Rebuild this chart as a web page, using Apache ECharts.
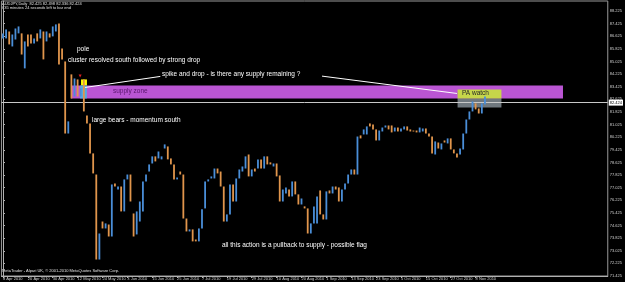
<!DOCTYPE html>
<html>
<head>
<meta charset="utf-8">
<script src="https://cdn.jsdelivr.net/npm/echarts@6/dist/echarts.min.js"></script>
<style>
  html, body { margin: 0; padding: 0; background: #000; }
  #chart { width: 625px; height: 282px; }
</style>
</head>
<body>
<div id="chart"></div>
<script>
// AUDJPY daily, 8 Apr 2010 .. Nov 2010, one bar per trading day
const dateLabels = ['8 Apr 2010', '20 Apr 2010', '30 Apr 2010', '12 May 2010', '24 May 2010',
  '3 Jun 2010', '15 Jun 2010', '25 Jun 2010', '7 Jul 2010', '19 Jul 2010', '29 Jul 2010',
  '10 Aug 2010', '20 Aug 2010', '1 Sep 2010', '13 Sep 2010', '23 Sep 2010', '5 Oct 2010',
  '15 Oct 2010', '27 Oct 2010', '8 Nov 2010'];

const highs = [
  86.81, 87.06, 86.93, 86.74, 87.12, 87.25, 86.81, 86.30, 86.74, 86.74,
  86.49, 86.81, 87.06, 86.93, 86.93, 86.81, 87.25, 87.38, 87.44, 85.85,
  85.03, 81.23, 84.21, 83.95, 83.89, 83.32, 83.89, 81.61, 81.10, 79.20,
  77.86, 74.12, 74.88, 74.76, 74.69, 77.23, 77.29, 77.10, 77.10, 77.55,
  77.86, 77.86, 75.39, 75.52, 76.15, 77.42, 77.86, 78.50, 79.01, 79.01,
  79.32, 79.01, 79.77, 79.64, 78.88, 78.50, 77.67, 78.05, 77.86, 75.07,
  74.38, 74.38, 73.74, 74.44, 75.65, 77.42, 77.55, 77.74, 78.24, 78.24,
  78.05, 77.10, 75.33, 77.23, 77.23, 77.61, 78.18, 78.37, 79.01, 79.13,
  78.18, 78.24, 78.82, 78.82, 79.01, 79.01, 78.63, 78.56, 78.56, 77.80,
  76.91, 77.04, 76.91, 77.42, 77.42, 76.60, 76.34, 75.84, 75.71, 74.76,
  75.84, 76.47, 76.85, 75.33, 76.79, 76.85, 77.10, 77.10, 77.04, 76.91,
  77.29, 77.86, 78.18, 78.18, 80.27, 80.34, 80.72, 80.91, 81.10, 81.03,
  80.72, 80.65, 80.84, 80.97, 80.97, 80.97, 80.84, 80.84, 80.78, 80.91,
  80.91, 80.72, 80.65, 80.65, 80.84, 80.78, 80.78, 80.46, 80.27, 79.96,
  79.89, 79.83, 80.02, 80.15, 80.15, 79.45, 79.20, 79.51, 80.46, 81.35,
  81.86, 82.49, 82.37, 82.05, 82.37, 82.81
];
const lows = [
  86.49, 86.49, 86.11, 85.98, 86.42, 86.81, 85.47, 84.59, 85.98, 86.17,
  86.17, 86.30, 86.49, 85.16, 86.30, 86.55, 86.62, 86.93, 84.84, 85.16,
  80.46, 80.46, 82.68, 82.81, 82.81, 82.81, 81.86, 81.10, 79.20, 77.93,
  72.47, 72.47, 74.44, 74.44, 73.93, 73.93, 77.10, 76.91, 75.52, 75.52,
  77.55, 76.15, 73.93, 74.06, 74.88, 75.52, 77.42, 78.05, 78.56, 78.69,
  78.88, 78.82, 79.51, 78.82, 78.50, 77.55, 77.55, 77.86, 75.07, 74.25,
  74.25, 73.62, 73.62, 73.62, 74.44, 75.71, 77.42, 77.61, 77.61, 77.93,
  77.10, 74.88, 74.88, 75.33, 76.15, 76.15, 77.61, 78.05, 78.24, 77.74,
  77.74, 78.05, 78.24, 78.24, 78.24, 78.50, 78.50, 78.37, 77.74, 76.15,
  76.15, 76.66, 76.47, 76.47, 76.60, 75.96, 75.96, 75.71, 74.12, 74.12,
  74.76, 74.76, 75.33, 75.01, 75.01, 76.66, 76.66, 76.91, 76.15, 76.15,
  76.91, 77.29, 77.86, 77.86, 77.86, 80.15, 80.40, 80.40, 80.91, 80.72,
  80.02, 80.02, 80.59, 80.84, 80.72, 80.53, 80.59, 80.59, 80.59, 80.72,
  80.65, 80.59, 80.59, 80.53, 80.53, 80.59, 80.46, 80.27, 79.20, 79.13,
  79.51, 79.45, 79.89, 79.83, 79.45, 79.20, 78.94, 79.13, 79.45, 80.46,
  81.35, 81.86, 81.99, 81.73, 81.73, 82.30
];
// 1 = up bar (blue), -1 = down bar (orange)
const dirs = [
  1, 1, -1, 1, 1, 1, -1, 1, -1, -1,
  1, -1, 1, -1, 1, -1, 1, 1, -1, -1,
  -1, 1, -1, 1, -1, 1, -1, -1, -1, -1,
  -1, 1, -1, 1, -1, 1, -1, 1, -1, 1,
  1, -1, -1, 1, 1, 1, 1, 1, 1, -1,
  1, 1, 1, -1, -1, -1, 1, -1, -1, -1,
  1, -1, -1, 1, 1, 1, 1, 1, 1, -1,
  -1, -1, 1, 1, -1, 1, 1, 1, 1, -1,
  1, -1, 1, -1, 1, -1, -1, 1, -1, -1,
  1, 1, -1, 1, -1, -1, 1, -1, -1, 1,
  1, 1, -1, -1, 1, -1, 1, -1, -1, 1,
  1, 1, 1, -1, 1, -1, 1, 1, -1, -1,
  -1, 1, 1, 1, -1, -1, 1, -1, 1, 1,
  -1, -1, -1, -1, 1, 1, -1, -1, -1, 1,
  -1, 1, -1, 1, -1, -1, -1, 1, 1, 1,
  1, 1, -1, -1, 1, 1
];

const lastPrice = 82.424;
const priceTicksFrom = 71.425;   // lowest price label
const priceStep = 0.8;
const supplyZone = { x: [21.9, 180.1], y: [82.68, 83.51] };
const spikeBox = { x: [25.1, 27.0], y: [83.51, 83.89] };
const clusterBox = { x: [24.8, 27.0], y: [82.68, 83.51] };
const paWatchBox = { x: [146.2, 160.3], y: [82.68, 83.25] };
const paGreyBox = { x: [146.2, 160.3], y: [82.11, 82.68] };
const spikeLine1 = [[26.4, 83.38], [50.6, 84.08]];
const spikeLine2 = [[102.6, 84.1], [146.0, 83.0]];

const UP = '#4a8ed8';
const DOWN = '#e0954c';
const FONT = '"Liberation Sans", Arial, sans-serif';

const bars = highs.map((h, i) => [i, lows[i], h, dirs[i]]);

const chart = echarts.init(document.getElementById('chart'), null, { renderer: 'canvas' });

function box(b, color) {
  return [{ xAxis: b.x[0], yAxis: b.y[1], itemStyle: { color: color } }, { xAxis: b.x[1], yAxis: b.y[0] }];
}

const option = {
  backgroundColor: '#000',
  animation: false,
  grid: { left: 0, right: 15, top: 1, bottom: 6, show: true, borderColor: '#9a9a9a', borderWidth: 1 },
  xAxis: {
    type: 'value',
    min: -0.5,
    max: 194.5,
    axisLine: { show: true, lineStyle: { color: '#b0b0b0', width: 1 } },
    axisTick: { show: true, length: 2, lineStyle: { color: '#b0b0b0' },
      customValues: dateLabels.map((d, k) => k * 8) },
    axisLabel: {
      customValues: dateLabels.map((d, k) => k * 8),
      formatter: v => dateLabels[Math.round(v / 8)] || '',
      color: '#d0d0d0', fontSize: 4, fontFamily: FONT, align: 'left', margin: 1
    },
    splitLine: { show: false }
  },
  yAxis: {
    type: 'value',
    position: 'right',
    min: priceTicksFrom,
    max: priceTicksFrom + 275 / 15.77,
    interval: priceStep,
    axisLine: { show: true, lineStyle: { color: '#b0b0b0', width: 1 } },
    axisTick: { show: true, length: 2, lineStyle: { color: '#b0b0b0' } },
    axisLabel: {
      formatter: v => v.toFixed(3), showMaxLabel: false,
      color: '#d0d0d0', fontSize: 4, fontFamily: FONT, margin: 2
    },
    splitLine: { show: false }
  },
  series: [
    {
      // supply zone and grey box behind the bars
      type: 'line', data: [], z: 1, silent: true,
      markArea: {
        silent: true,
        data: [box(supplyZone, '#ba55d3'), box(paGreyBox, 'rgba(150,160,168,0.75)')]
      },
      markLine: {
        silent: true, symbol: 'none',
        data: [{ yAxis: lastPrice, lineStyle: { color: '#c8c8c8', width: 1, type: 'solid' },
          label: { show: true, position: 'end', formatter: lastPrice.toFixed(3), color: '#000',
            backgroundColor: '#fff', fontSize: 4, fontFamily: FONT, padding: [1, 1], distance: 1 } }]
      }
    },
    {
      type: 'custom',
      z: 5,
      data: bars,
      encode: { x: 0, y: [1, 2] },
      renderItem: function (params, api) {
        const lo = api.coord([api.value(0), api.value(1)]);
        const hi = api.coord([api.value(0), api.value(2)]);
        return {
          type: 'rect',
          shape: { x: lo[0] - 0.9, y: hi[1], width: 1.8, height: Math.max(1, lo[1] - hi[1]) },
          style: { fill: api.value(3) > 0 ? UP : DOWN }
        };
      }
    },
    {
      // highlight boxes and trend lines on top of the bars
      type: 'line', data: [], z: 8, silent: true,
      markArea: {
        silent: true,
        data: [box(spikeBox, '#ffff00'), box(clusterBox, 'rgba(70,185,225,0.85)'), box(paWatchBox, '#c6d64a')]
      },
      markLine: {
        silent: true, symbol: 'none', label: { show: false },
        lineStyle: { color: '#ffffff', width: 1, type: 'solid' },
        data: [
          [{ coord: spikeLine1[0] }, { coord: spikeLine1[1] }],
          [{ coord: spikeLine2[0] }, { coord: spikeLine2[1] }]
        ]
      },
      markPoint: {
        silent: true,
        data: [{ coord: [24.8, 84.1], symbol: 'triangle', symbolSize: [3, 3], symbolRotate: 180,
          itemStyle: { color: '#e02020' }, label: { show: false } }]
      }
    }
  ],
  graphic: [
    { type: 'text', left: 2, top: 1.5, style: { text: 'AUDJPY,Daily  82.425 82.498 82.336 82.424', fill: '#e0e0e0', fontSize: 4, fontFamily: FONT } },
    { type: 'text', left: 2, top: 6, style: { text: '635 minutes 24 seconds left to bar end', fill: '#e0e0e0', fontSize: 4, fontFamily: FONT } },
    { type: 'text', left: 77, top: 45.5, z: 10, style: { text: 'pole', fill: '#fff', fontSize: 6.5, fontFamily: FONT } },
    { type: 'text', left: 68, top: 56.5, z: 10, style: { text: 'cluster resolved south followed by strong drop', fill: '#fff', fontSize: 6.5, fontFamily: FONT } },
    { type: 'text', left: 162, top: 70.5, z: 10, style: { text: 'spike and drop - is there any supply remaining ?', fill: '#fff', fontSize: 6.5, fontFamily: FONT } },
    { type: 'text', left: 113, top: 87.5, z: 10, style: { text: 'supply zone', fill: '#5a166e', fontSize: 6.5, fontFamily: FONT } },
    { type: 'text', left: 92, top: 116.5, z: 10, style: { text: 'large bears - momentum south', fill: '#fff', fontSize: 6.5, fontFamily: FONT } },
    { type: 'text', left: 462, top: 89.5, z: 10, style: { text: 'PA watch', fill: '#262626', fontSize: 6.5, fontFamily: FONT } },
    { type: 'text', left: 222, top: 241.5, z: 10, style: { text: 'all this action is a pullback to supply - possible flag', fill: '#fff', fontSize: 6.5, fontFamily: FONT } },
    { type: 'text', left: 2, top: 269, style: { text: 'MetaTrader - Alpari UK, \u00a9 2001-2010 MetaQuotes Software Corp.', fill: '#e0e0e0', fontSize: 4, fontFamily: FONT } }
  ]
};

chart.setOption(option);
</script>
</body>
</html>
